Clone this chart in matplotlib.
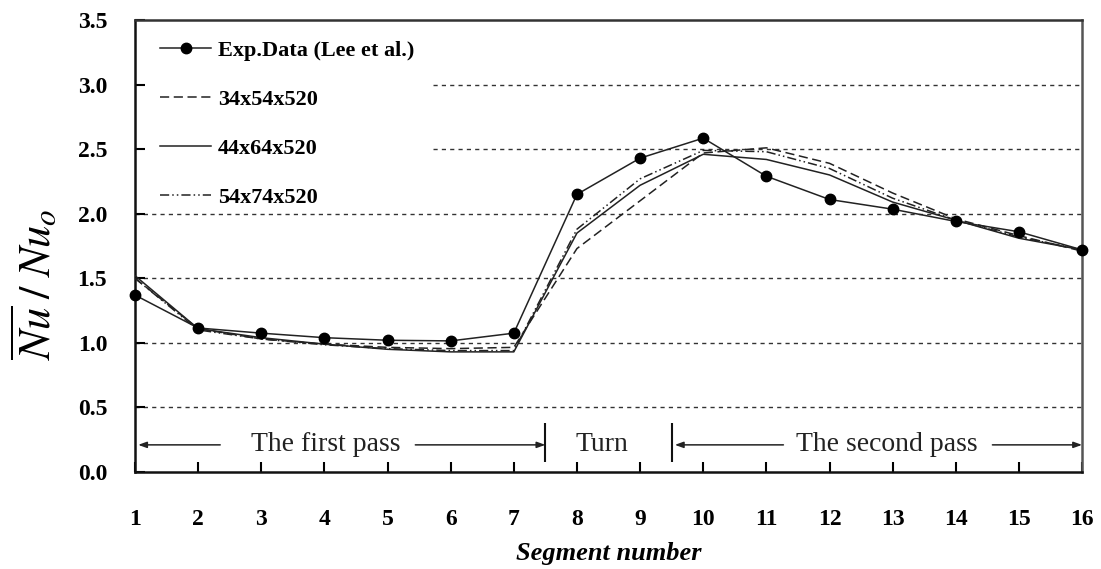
import matplotlib
matplotlib.use("Agg")
import matplotlib.pyplot as plt

plt.rcParams['font.family'] = ['Liberation Serif', 'DejaVu Serif']
plt.rcParams['mathtext.fontset'] = 'stix'

segments = list(range(1, 17))
exp_data = [1.37, 1.115, 1.075, 1.04, 1.02, 1.015, 1.075, 2.15, 2.43, 2.585,
            2.29, 2.11, 2.035, 1.94, 1.86, 1.72]
grid_34 = [1.50, 1.11, 1.03, 0.99, 0.965, 0.955, 0.965, 1.73, 2.10, 2.47,
           2.51, 2.39, 2.16, 1.96, 1.83, 1.71]
grid_44 = [1.52, 1.11, 1.04, 0.99, 0.95, 0.93, 0.93, 1.85, 2.22, 2.46,
           2.42, 2.30, 2.09, 1.95, 1.81, 1.72]
grid_54 = [1.50, 1.10, 1.03, 0.985, 0.955, 0.94, 0.94, 1.88, 2.27, 2.49,
           2.48, 2.35, 2.12, 1.95, 1.82, 1.72]
labels = ['Exp.Data (Lee et al.)', '34x54x520', '44x64x520', '54x74x520']
y_ticks = [0.0, 0.5, 1.0, 1.5, 2.0, 2.5, 3.0, 3.5]

fig = plt.figure(figsize=(11.01, 5.69), dpi=100)
ax = fig.add_axes([0.1226, 0.1705, 0.8602, 0.7944])

# dotted reference lines
for yv in [0.5, 1.0, 1.5, 2.0]:
    ax.hlines(yv, 1, 16, colors='#333333', linestyles=(0, (3, 3)), linewidth=1.0, zorder=1)
for yv in [2.5, 3.0]:
    ax.hlines(yv, 5.72, 16, colors='#333333', linestyles=(0, (3, 3)), linewidth=1.0, zorder=1)

lw = 1.1
ax.plot(segments, exp_data, color='#222222', lw=lw, marker='o', markersize=7.5,
        markerfacecolor='black', markeredgecolor='black', label=labels[0], zorder=5, clip_on=False)
ax.plot(segments, grid_34, color='#222222', lw=lw, linestyle=(0, (6, 3)), label=labels[1], zorder=3)
ax.plot(segments, grid_44, color='#222222', lw=lw, linestyle='-', label=labels[2], zorder=4)
ax.plot(segments, grid_54, color='#222222', lw=lw, linestyle=(0, (6, 2, 1, 2, 1, 2)),
        label=labels[3], zorder=3)

ax.set_xlim(1, 16)
ax.set_ylim(0, 3.5)
ax.set_xticks(segments)
ax.set_yticks(y_ticks)
ax.set_yticklabels([f'{v:.1f}' for v in y_ticks])
ax.tick_params(axis='both', direction='in', length=7, width=1.5, labelsize=17)
ax.tick_params(axis='x', pad=27)
ax.tick_params(axis='y', pad=20)
for lab in ax.get_xticklabels() + ax.get_yticklabels():
    lab.set_fontweight('bold')

for side in ['left', 'bottom', 'top', 'right']:
    ax.spines[side].set_linewidth(1.8)
    ax.spines[side].set_color('#111111')
ax.spines['right'].set_color('#555555')
ax.spines['top'].set_color('#333333')

ax.set_xlabel('Segment number', fontsize=19, fontweight='bold', style='italic', labelpad=8)
ax.set_ylabel(r'$\overline{Nu}\;/\;Nu_o$', fontsize=32)
ax.yaxis.set_label_coords(-0.079, 0.415)

leg = ax.legend(loc='upper left', bbox_to_anchor=(0.01, 0.99), frameon=False,
                fontsize=16, handlelength=2.3, handletextpad=0.3, labelspacing=1.28,
                borderaxespad=0.3)
for t in leg.get_texts():
    t.set_fontweight('bold')

# pass / turn annotations
ya = 0.21
arrow_kw = dict(arrowstyle='-|>,head_length=0.5,head_width=0.18', color='#222222', lw=1.1,
                shrinkA=0, shrinkB=0)
ax.annotate('', xy=(1.05, ya), xytext=(2.35, ya), arrowprops=arrow_kw)
ax.annotate('', xy=(7.5, ya), xytext=(5.44, ya), arrowprops=arrow_kw)
ax.annotate('', xy=(9.55, ya), xytext=(11.27, ya), arrowprops=arrow_kw)
ax.annotate('', xy=(16, ya), xytext=(14.58, ya), arrowprops=arrow_kw)
ax.vlines([7.5, 9.5], 0.08, 0.38, colors='#111111', lw=1.5)
text_kw = dict(fontsize=20, ha='center', va='center', color='#222222')
ax.text(4.02, ya, 'The first pass', **text_kw)
ax.text(8.4, ya, 'Turn', **text_kw)
ax.text(12.9, ya, 'The second pass', **text_kw)

fig.savefig('out.png', dpi=100)
